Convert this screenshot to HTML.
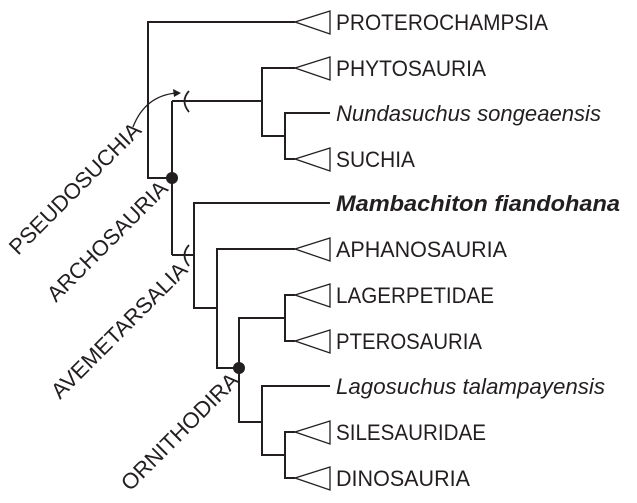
<!DOCTYPE html>
<html><head><meta charset="utf-8"><style>html,body{margin:0;padding:0;background:#fff}svg{display:block}</style></head>
<body>
<svg width="637" height="503" viewBox="0 0 637 503" xmlns="http://www.w3.org/2000/svg" font-family="Liberation Sans, sans-serif" font-size="22" fill="#231f20">
<g stroke="#231f20" stroke-width="2" fill="none">
<polyline points="295,22 148,22 148,178 172,178"/>
<line x1="172" y1="101" x2="172" y2="255"/>
<line x1="172" y1="101" x2="262" y2="101"/>
<polyline points="295,68 262,68 262,136 285,136"/>
<polyline points="330,113 285,113 285,159 295,159"/>
<line x1="172" y1="255" x2="194" y2="255"/>
<polyline points="330,203 194,203 194,308 217,308"/>
<polyline points="295,249 217,249 217,368 239,368"/>
<polyline points="285,318 239,318 239,422 262,422"/>
<polyline points="295,295 285,295 285,341 295,341"/>
<polyline points="330,386 262,386 262,455 285,455"/>
<polyline points="295,432 285,432 285,478 295,478"/>
<g stroke-width="1.3">
<polygon points="295,22 330,11 330,34"/>
<polygon points="295,68 330,57 330,80"/>
<polygon points="295,159 330,148 330,171"/>
<polygon points="295,249 330,238 330,261"/>
<polygon points="295,295 330,284 330,307"/>
<polygon points="295,341 330,330 330,353"/>
<polygon points="295,432 330,421 330,444"/>
<polygon points="295,478 330,467 330,490"/>
</g>
<path d="M189,91 Q180,101 189,112" stroke-width="1.8"/>
<path d="M189,245 Q180,255 189,266" stroke-width="1.8"/>
<path d="M133,127 Q145,96 176,93" stroke-width="1.3"/>
</g>
<polygon points="181,93 173,89 174,97" fill="#231f20"/>
<circle cx="172" cy="178" r="6"/>
<circle cx="239" cy="368" r="6"/>
<text x="336" y="30" textLength="212" lengthAdjust="spacingAndGlyphs">PROTEROCHAMPSIA</text>
<text x="336" y="76" textLength="150" lengthAdjust="spacingAndGlyphs">PHYTOSAURIA</text>
<text x="336" y="121" font-style="italic" textLength="265" lengthAdjust="spacingAndGlyphs">Nundasuchus songeaensis</text>
<text x="336" y="167" textLength="79" lengthAdjust="spacingAndGlyphs">SUCHIA</text>
<text x="336" y="211" font-style="italic" font-weight="bold" textLength="284" lengthAdjust="spacingAndGlyphs">Mambachiton fiandohana</text>
<text x="336" y="257" textLength="171" lengthAdjust="spacingAndGlyphs">APHANOSAURIA</text>
<text x="336" y="303" textLength="158" lengthAdjust="spacingAndGlyphs">LAGERPETIDAE</text>
<text x="336" y="349" textLength="146" lengthAdjust="spacingAndGlyphs">PTEROSAURIA</text>
<text x="336" y="394" font-style="italic" textLength="269" lengthAdjust="spacingAndGlyphs">Lagosuchus talampayensis</text>
<text x="336" y="440" textLength="150" lengthAdjust="spacingAndGlyphs">SILESAURIDAE</text>
<text x="336" y="486" textLength="134" lengthAdjust="spacingAndGlyphs">DINOSAURIA</text>
<text transform="translate(18,256) rotate(-45)" textLength="176" lengthAdjust="spacingAndGlyphs">PSEUDOSUCHIA</text>
<text transform="translate(56,303) rotate(-45)" textLength="160" lengthAdjust="spacingAndGlyphs">ARCHOSAURIA</text>
<text transform="translate(60,400) rotate(-45)" textLength="182" lengthAdjust="spacingAndGlyphs">AVEMETARSALIA</text>
<text transform="translate(130,492) rotate(-45)" textLength="156" lengthAdjust="spacingAndGlyphs">ORNITHODIRA</text>
</svg>
</body></html>
